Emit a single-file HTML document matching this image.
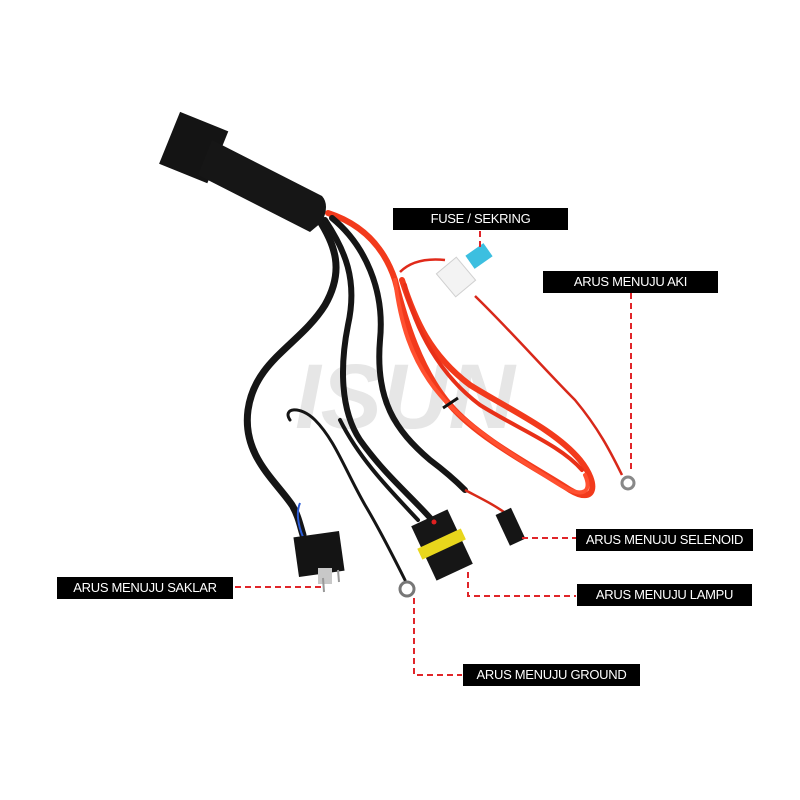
<!DOCTYPE html>
<html><head><meta charset="utf-8"><style>
html,body{margin:0;padding:0;background:#fff;}
.lbl{position:absolute;background:#000;color:#fff;font-family:"Liberation Sans",sans-serif;font-size:13px;text-align:center;line-height:22px;height:22px;letter-spacing:-0.3px;}
</style></head><body>
<div style="position:relative;width:800px;height:800px;overflow:hidden">
<svg width="800" height="800" style="position:absolute;left:0;top:0">
<text x="405" y="428" font-family="Liberation Sans" font-size="92" font-weight="bold" font-style="italic" fill="#e6e6e6" text-anchor="middle">ISUN</text>
<!-- thin red wire to AKI -->
<path d="M475 296 C510 330 545 370 575 400 C600 430 612 455 622 475" stroke="#d8281a" stroke-width="2.5" fill="none"/>
<path d="M400 272 C410 262 425 258 445 260" stroke="#e02a1a" stroke-width="2.5" fill="none"/>
<circle cx="628" cy="483" r="6" fill="none" stroke="#888" stroke-width="3"/>
<!-- red coil -->
<g fill="none" stroke="#f23a1c" stroke-linecap="round" stroke-linejoin="round">
<path d="M328 213 C365 225 385 250 395 280 C405 320 420 370 450 405 C480 440 540 470 570 490 C595 505 600 485 580 460 C555 430 510 410 470 385 C430 355 415 320 402 280" stroke-width="6"/>
<path d="M395 280 C400 320 410 360 440 395 C470 430 520 460 560 485 C585 500 592 490 585 475" stroke-width="4" stroke="#ff5030"/>
<path d="M405 285 C415 330 440 375 480 405 C520 430 560 445 582 470" stroke-width="4" stroke="#e83018"/>
</g>
<line x1="443" y1="408" x2="458" y2="398" stroke="#111" stroke-width="3"/>
<!-- fuse holder & fuse -->
<rect x="443" y="262" width="26" height="30" fill="#f3f3f3" stroke="#d0d0d0" transform="rotate(-40 456 277)"/>
<rect x="468" y="248" width="22" height="16" fill="#3cbfe0" transform="rotate(-35 479 256)"/>
<!-- black cables -->
<g fill="none" stroke="#151515" stroke-linecap="round">
<path d="M318 218 C335 245 345 270 325 305 C300 345 255 360 248 410 C242 455 275 480 292 505 C298 515 300 525 303 535" stroke-width="7"/>
<path d="M325 220 C345 250 358 280 348 325 C340 365 340 410 360 440 C385 475 410 495 432 520" stroke-width="6"/>
<path d="M332 218 C365 245 385 290 380 340 C375 400 395 430 430 460 C450 475 460 485 465 490" stroke-width="6"/>
<path d="M290 420 C282 408 300 405 315 420 C335 440 345 470 365 505 C380 530 395 560 405 580" stroke-width="3"/>
<path d="M340 420 C360 460 390 490 418 520" stroke-width="4"/>
</g>
<path d="M465 490 C480 498 495 505 508 515" stroke="#d82a18" stroke-width="2.5" fill="none"/>
<path d="M300 503 C296 512 298 525 303 537" stroke="#2a5bd7" stroke-width="2" fill="none"/>
<!-- relay -->
<g transform="rotate(22 195 147)">
<rect x="168" y="120" width="52" height="56" fill="#141414"/>
</g>
<path d="M212 140 L322 196 Q330 205 322 222 L310 232 L198 175 Z" fill="#161616"/>
<!-- H4 plug -->
<rect x="296" y="534" width="46" height="40" fill="#141414" transform="rotate(-8 319 554)"/>
<rect x="318" y="568" width="14" height="16" fill="#c8c8c8"/>
<line x1="323" y1="578" x2="324" y2="592" stroke="#999" stroke-width="2"/>
<line x1="338" y1="570" x2="339" y2="582" stroke="#999" stroke-width="2"/>
<!-- ground ring -->
<circle cx="407" cy="589" r="7" fill="none" stroke="#777" stroke-width="3"/>
<!-- waterproof connector -->
<g transform="rotate(-25 442 545)">
<rect x="422" y="515" width="40" height="60" fill="#161616"/>
<rect x="418" y="538" width="48" height="12" fill="#e8d61c"/>
</g>
<circle cx="434" cy="522" r="2.5" fill="#e02020"/>
<!-- selenoid plug -->
<rect x="502" y="510" width="17" height="34" fill="#151515" transform="rotate(-25 510 527)"/>
<!-- dashed leaders -->
<g stroke="#e0252a" stroke-width="2" stroke-dasharray="6,4" fill="none">
<path d="M480 231 L480 248"/>
<path d="M631 293 L631 470"/>
<path d="M522 538 L578 538"/>
<path d="M235 587 L322 587"/>
<path d="M468 572 L468 596 L576 596"/>
<path d="M414 598 L414 675 L462 675"/>
</g>
</svg>
<div class="lbl" style="left:393px;top:208px;width:175px;">FUSE / SEKRING</div>
<div class="lbl" style="left:543px;top:271px;width:175px;">ARUS MENUJU AKI</div>
<div class="lbl" style="left:576px;top:529px;width:177px;">ARUS MENUJU SELENOID</div>
<div class="lbl" style="left:57px;top:577px;width:176px;">ARUS MENUJU SAKLAR</div>
<div class="lbl" style="left:577px;top:584px;width:175px;">ARUS MENUJU LAMPU</div>
<div class="lbl" style="left:463px;top:664px;width:177px;">ARUS MENUJU GROUND</div>
</div>
</body></html>
